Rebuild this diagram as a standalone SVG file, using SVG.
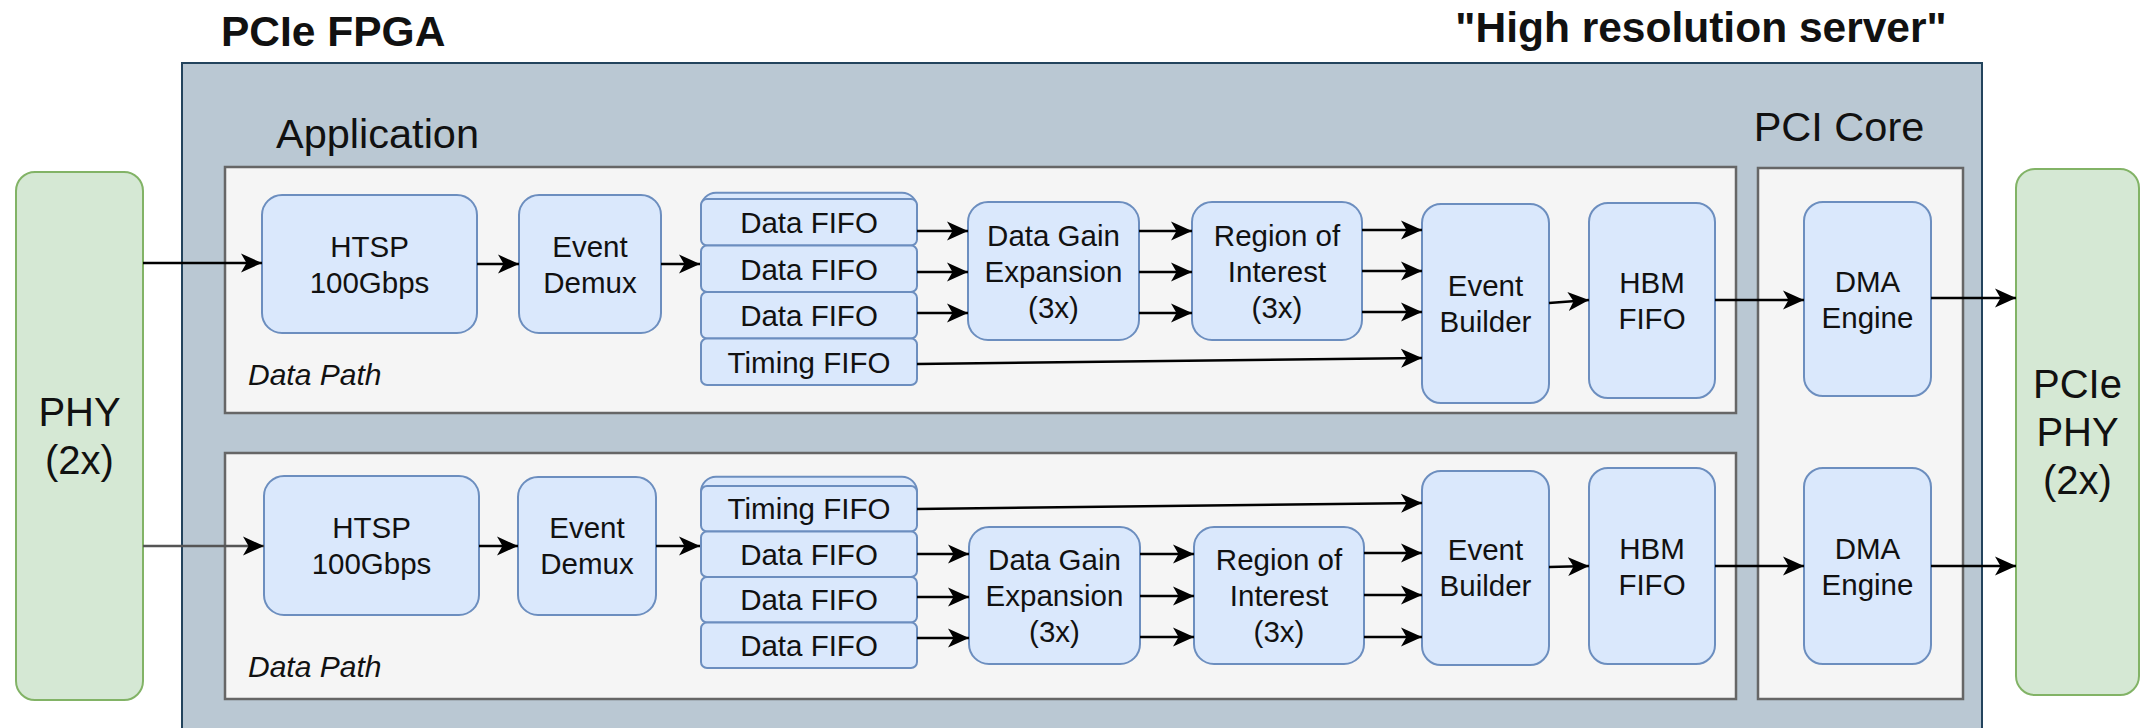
<svg xmlns="http://www.w3.org/2000/svg" width="2141" height="728" viewBox="0 0 2141 728">
<style>
text{font-family:"Liberation Sans",Arial,Helvetica,sans-serif;fill:#111;}
.t{font-size:29.5px;text-anchor:middle;}
.big{font-size:40px;}
.lbl{font-size:41.5px;}
.title{font-size:42.5px;font-weight:bold;}
.it{font-size:30px;font-style:italic;}
.node{fill:#dae8fc;stroke:#6c8ebf;stroke-width:2;}
.phy{fill:#d5e8d4;stroke:#82b366;stroke-width:2;}
.cont{fill:#f5f5f5;stroke:#666666;stroke-width:2.5;}
.outer{fill:#bac8d3;stroke:#23445d;stroke-width:2;}
.c{fill:none;stroke:#000;stroke-width:2.5;marker-end:url(#arr);}
</style>
<defs>
<marker id="arr" markerUnits="userSpaceOnUse" markerWidth="22" markerHeight="22" viewBox="0 0 22 22" refX="21" refY="11" orient="auto">
<path d="M0,1.5 L21,11 L0,20.5 L5.5,11 Z" fill="#000"/>
</marker>
</defs>

<g id="titles">
<text x="221" y="46" class="title">PCIe FPGA</text>
<text x="1701" y="42" class="title" text-anchor="middle">"High resolution server"</text>
</g>

<g id="fpga">
<rect class="outer" x="182" y="63" width="1800" height="700"/>
<text x="276" y="148" class="lbl">Application</text>
<text x="1839" y="141" class="lbl" text-anchor="middle">PCI Core</text>
</g>

<g id="app1"><rect class="cont" x="225" y="167" width="1511" height="246"/>
<text x="248" y="385" class="it">Data Path</text></g>
<g id="app2"><rect class="cont" x="225" y="453" width="1511" height="246"/>
<text x="248" y="677" class="it">Data Path</text></g>
<g id="pcicore"><rect class="cont" x="1758" y="168" width="205" height="531"/></g>

<g id="phy-left"><rect class="phy" x="16" y="172" width="127" height="528" rx="19"/>
<text class="t big" x="79.5" y="426">PHY</text><text class="t big" x="79.5" y="474">(2x)</text></g>
<g id="phy-right"><rect class="phy" x="2016" y="169" width="123" height="526" rx="19"/>
<text class="t big" x="2077.5" y="398">PCIe</text><text class="t big" x="2077.5" y="446">PHY</text><text class="t big" x="2077.5" y="494">(2x)</text></g>

<!-- top path -->
<g id="htsp1"><rect class="node" x="262" y="195" width="215" height="138" rx="20"/>
<text class="t" x="369.5" y="256.5">HTSP</text><text class="t" x="369.5" y="292.5">100Gbps</text></g>
<g id="demux1"><rect class="node" x="519" y="195" width="142" height="138" rx="20"/>
<text class="t" x="590" y="256.5">Event</text><text class="t" x="590" y="292.5">Demux</text></g>
<g id="fifos1">
<rect class="node" x="701" y="192.7" width="216" height="40" rx="15"/>
<rect class="node" x="701" y="199" width="216" height="46.5" rx="6"/>
<rect class="node" x="701" y="245.5" width="216" height="46.5" rx="6"/>
<rect class="node" x="701" y="292" width="216" height="46.5" rx="6"/>
<rect class="node" x="701" y="338.5" width="216" height="46.5" rx="6"/>
<text class="t" x="809" y="233">Data FIFO</text>
<text class="t" x="809" y="279.5">Data FIFO</text>
<text class="t" x="809" y="326">Data FIFO</text>
<text class="t" x="809" y="372.5">Timing FIFO</text>
</g>
<g id="dge1"><rect class="node" x="968" y="202" width="171" height="138" rx="20"/>
<text class="t" x="1053.5" y="245.5">Data Gain</text><text class="t" x="1053.5" y="281.5">Expansion</text><text class="t" x="1053.5" y="317.5">(3x)</text></g>
<g id="roi1"><rect class="node" x="1192" y="202" width="170" height="138" rx="20"/>
<text class="t" x="1277" y="245.5">Region of</text><text class="t" x="1277" y="281.5">Interest</text><text class="t" x="1277" y="317.5">(3x)</text></g>
<g id="eb1"><rect class="node" x="1422" y="204" width="127" height="199" rx="19"/>
<text class="t" x="1485.5" y="295.5">Event</text><text class="t" x="1485.5" y="331.5">Builder</text></g>
<g id="hbm1"><rect class="node" x="1589" y="203" width="126" height="195" rx="19"/>
<text class="t" x="1652" y="293">HBM</text><text class="t" x="1652" y="329">FIFO</text></g>
<g id="dma1"><rect class="node" x="1804" y="202" width="127" height="194" rx="19"/>
<text class="t" x="1867.5" y="291.5">DMA</text><text class="t" x="1867.5" y="327.5">Engine</text></g>

<!-- bottom path -->
<g id="htsp2"><rect class="node" x="264" y="476" width="215" height="139" rx="20"/>
<text class="t" x="371.5" y="538">HTSP</text><text class="t" x="371.5" y="574">100Gbps</text></g>
<g id="demux2"><rect class="node" x="518" y="477" width="138" height="138" rx="20"/>
<text class="t" x="587" y="538">Event</text><text class="t" x="587" y="574">Demux</text></g>
<g id="fifos2">
<rect class="node" x="701" y="476.7" width="216" height="40" rx="15"/>
<rect class="node" x="701" y="486" width="216" height="45.5" rx="6"/>
<rect class="node" x="701" y="531.5" width="216" height="45.5" rx="6"/>
<rect class="node" x="701" y="577" width="216" height="45.5" rx="6"/>
<rect class="node" x="701" y="622.5" width="216" height="45.5" rx="6"/>
<text class="t" x="809" y="519">Timing FIFO</text>
<text class="t" x="809" y="564.5">Data FIFO</text>
<text class="t" x="809" y="610">Data FIFO</text>
<text class="t" x="809" y="655.5">Data FIFO</text>
</g>
<g id="dge2"><rect class="node" x="969" y="527" width="171" height="137" rx="20"/>
<text class="t" x="1054.5" y="570">Data Gain</text><text class="t" x="1054.5" y="606">Expansion</text><text class="t" x="1054.5" y="642">(3x)</text></g>
<g id="roi2"><rect class="node" x="1194" y="527" width="170" height="137" rx="20"/>
<text class="t" x="1279" y="570">Region of</text><text class="t" x="1279" y="606">Interest</text><text class="t" x="1279" y="642">(3x)</text></g>
<g id="eb2"><rect class="node" x="1422" y="471" width="127" height="194" rx="19"/>
<text class="t" x="1485.5" y="560">Event</text><text class="t" x="1485.5" y="596">Builder</text></g>
<g id="hbm2"><rect class="node" x="1589" y="468" width="126" height="196" rx="19"/>
<text class="t" x="1652" y="559">HBM</text><text class="t" x="1652" y="595">FIFO</text></g>
<g id="dma2"><rect class="node" x="1804" y="468" width="127" height="196" rx="19"/>
<text class="t" x="1867.5" y="559">DMA</text><text class="t" x="1867.5" y="595">Engine</text></g>

<g id="connectors">
<path class="c" d="M143,263 H262"/>
<path class="c" d="M143,546 H264" style="stroke:#555"/>
<path class="c" d="M477,264 H519"/>
<path class="c" d="M479,546 H518"/>
<path class="c" d="M661,264 H700"/>
<path class="c" d="M656,546 H700"/>
<path class="c" d="M917,231 H968"/>
<path class="c" d="M917,272 H968"/>
<path class="c" d="M917,313 H968"/>
<path class="c" d="M1139,231 H1192"/>
<path class="c" d="M1139,272 H1192"/>
<path class="c" d="M1139,313 H1192"/>
<path class="c" d="M1362,230 H1422"/>
<path class="c" d="M1362,271 H1422"/>
<path class="c" d="M1362,312 H1422"/>
<path class="c" d="M917,364 L1422,358"/>
<path class="c" d="M917,509 L1422,503"/>
<path class="c" d="M917,554 H969"/>
<path class="c" d="M917,597 H969"/>
<path class="c" d="M917,638 H969"/>
<path class="c" d="M1140,554 H1194"/>
<path class="c" d="M1140,596 H1194"/>
<path class="c" d="M1140,637 H1194"/>
<path class="c" d="M1364,553 H1422"/>
<path class="c" d="M1364,595 H1422"/>
<path class="c" d="M1364,637 H1422"/>
<path class="c" d="M1549,303 L1589,300"/>
<path class="c" d="M1549,567 L1589,566"/>
<path class="c" d="M1715,300 H1804"/>
<path class="c" d="M1715,566 H1804"/>
<path class="c" d="M1931,298 H2016"/>
<path class="c" d="M1931,566 H2016"/>
</g>
</svg>
